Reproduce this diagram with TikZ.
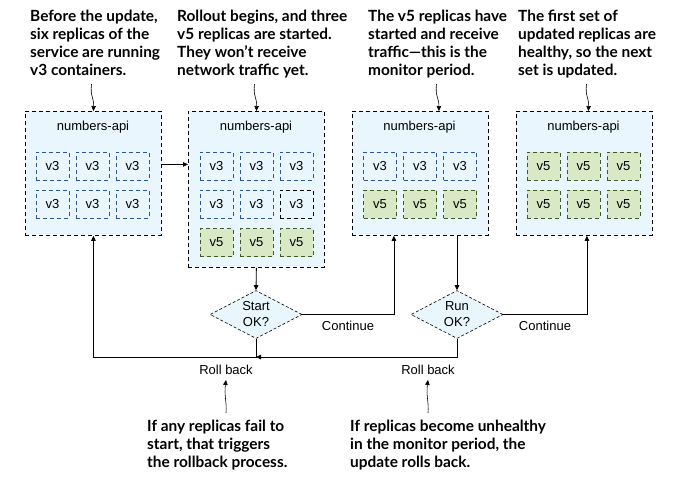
\documentclass[tikz,border=0pt]{standalone}
\usepackage{fontspec}
\setmainfont{Liberation Sans}
\newfontfamily\notefont{Lato}
\usetikzlibrary{shapes.geometric,arrows.meta}
\definecolor{podfill}{HTML}{E9F6FD}
\definecolor{oldline}{HTML}{2E5597}
\definecolor{newfill}{HTML}{D9E8C5}
\definecolor{newline}{HTML}{3D5C2A}
\begin{document}
\begin{tikzpicture}[x=1pt,y=-1pt,
  service/.style={draw=black,fill=podfill,line width=0.8pt,dash pattern=on 4pt off 3pt,
    minimum width=136pt,anchor=north west,inner sep=0pt},
  oldpod/.style={draw=oldline,line width=0.8pt,dash pattern=on 4pt off 3pt,
    minimum width=33pt,minimum height=28pt,inner sep=0pt,font=\fontsize{13}{15}\selectfont},
  strayold/.style={oldpod,draw=black},
  newpod/.style={oldpod,draw=newline,fill=newfill},
  svclabel/.style={font=\fontsize{13}{15}\selectfont,inner sep=0pt},
  decision/.style={diamond,draw=black,fill=podfill,line width=0.6pt,dash pattern=on 3pt off 2pt,
    shape aspect=1.9,minimum width=92pt,minimum height=48pt,inner sep=0pt,align=center,
    font=\fontsize{13}{16}\selectfont},
  lbl/.style={font=\fontsize{13}{15}\selectfont,inner sep=0pt},
  note/.style={font=\notefont\bfseries\fontsize{15.4}{17.8}\selectfont,align=left,inner sep=0pt,anchor=north west},
  flow/.style={line width=0.8pt,-{Triangle[length=5pt,width=4.5pt]}},
  pointer/.style={line width=0.6pt,-{Triangle[length=5pt,width=4.5pt]}}]
\useasboundingbox (0,0) rectangle (683,491);

% services
\node[service,minimum height=124pt] (p1) at (25,111) {};
\node[service,minimum height=156pt] (p2) at (188,111) {};
\node[service,minimum height=124pt] (p3) at (352,111) {};
\node[service,minimum height=124pt] (p4) at (516,111) {};
\node[svclabel] (l1) at (93,127) {numbers-api};
\node[svclabel] (l2) at (256,127) {numbers-api};
\node[svclabel] (l3) at (419.5,127) {numbers-api};
\node[svclabel] (l4) at (583.5,127) {numbers-api};

% replicas, stage 1
\node[oldpod] (a1) at (52.5,166) {v3};
\node[oldpod] (a2) at (92.5,166) {v3};
\node[oldpod] (a3) at (132.5,166) {v3};
\node[oldpod] (a4) at (52.5,204) {v3};
\node[oldpod] (a5) at (92.5,204) {v3};
\node[oldpod] (a6) at (132.5,204) {v3};
% stage 2
\node[oldpod] (b1) at (216.5,166) {v3};
\node[oldpod] (b2) at (256.5,166) {v3};
\node[oldpod] (b3) at (296.5,166) {v3};
\node[oldpod] (b4) at (216.5,204) {v3};
\node[oldpod] (b5) at (256.5,204) {v3};
\node[strayold] (b6) at (296.5,204) {v3};
\node[newpod] (b7) at (216.5,242.5) {v5};
\node[newpod] (b8) at (256.5,242.5) {v5};
\node[newpod] (b9) at (296.5,242.5) {v5};
% stage 3
\node[oldpod] (c1) at (380,166) {v3};
\node[oldpod] (c2) at (420,166) {v3};
\node[oldpod] (c3) at (460,166) {v3};
\node[newpod] (c4) at (380,204) {v5};
\node[newpod] (c5) at (420,204) {v5};
\node[newpod] (c6) at (460,204) {v5};
% stage 4
\node[newpod] (e1) at (543.5,166) {v5};
\node[newpod] (e2) at (583.5,166) {v5};
\node[newpod] (e3) at (623.5,166) {v5};
\node[newpod] (e4) at (543.5,204) {v5};
\node[newpod] (e5) at (583.5,204) {v5};
\node[newpod] (e6) at (623.5,204) {v5};

% checks
\node[decision] (d1) at (256,314.5) {Start\\OK?};
\node[decision] (d2) at (457,314.5) {Run\\OK?};
\node[lbl] (k1) at (348,326) {Continue};
\node[lbl] (k2) at (545,326) {Continue};
\node[lbl] (r1) at (226,370) {Roll back};
\node[lbl] (r2) at (428,370) {Roll back};
\coordinate (rbline) at (0,357);

% flow
\draw[flow] ([yshift=9pt]p1.east) -- ([yshift=9pt]p1.east -| p2.west);
\draw[flow] (p2.south) -- (d1.north);
\draw[flow] (d1.east) -| ([xshift=-26.5pt]p3.south);
\draw[flow] (p3.south -| d2.north) -- (d2.north);
\draw[flow] (d2.east) -| ([xshift=2.5pt]p4.south);
\draw[flow] (d1.south) -- (d1.south |- rbline) -| (p1.south);
\draw[flow] (d2.south) |- (d1.south |- rbline);

% notes
\node[note] (n1) at (30,10) {Before the update,\\six replicas of the\\service are running\\v3 containers.};
\node[note] (n2) at (177,10) {Rollout begins, and three\\v5 replicas are started.\\They won’t receive\\network traffic yet.};
\node[note] (n3) at (368,10) {The v5 replicas have\\started and receive\\traffic—this is the\\monitor period.};
\node[note] (n4) at (518,10) {The first set of\\updated replicas are\\healthy, so the next\\set is updated.};
\node[note] (n5) at (147,420) {If any replicas fail to\\start, that triggers\\the rollback process.};
\node[note] (n6) at (350,420) {If replicas become unhealthy\\in the monitor period, the\\update rolls back.};

\coordinate (t1) at (91.5,84);
\coordinate (t2) at (254.5,84);
\coordinate (t3) at (436.5,84);
\coordinate (t4) at (586.5,84);
\coordinate (u1) at (226,413);
\coordinate (u2) at (428,413);
\draw[pointer] (t1) .. controls (90,96) and (94,98) .. (p1.north);
\draw[pointer] (t2) .. controls (253,96) and (257,98) .. (p2.north);
\draw[pointer] (t3) .. controls (435,96) and (439,98) .. ([xshift=18.5pt]p3.north);
\draw[pointer] (t4) .. controls (585,96) and (589,98) .. ([xshift=4pt]p4.north);
\draw[pointer] (u1) .. controls (227,402) and (224,396) .. ([yshift=-5pt]r1.south);
\draw[pointer] (u2) .. controls (429,402) and (426,396) .. ([yshift=-5pt]r2.south);
\end{tikzpicture}
\end{document}
